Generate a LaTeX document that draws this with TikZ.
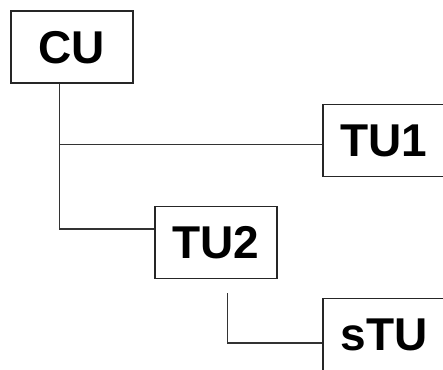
\documentclass[tikz,border=0pt]{standalone}
\usepackage{fontspec}
\setmainfont{Liberation Sans}
\usepackage{tikz}

\begin{document}
\begin{tikzpicture}[x=1pt,y=-1pt,
	unit/.style={draw=black!85, line width=1.8pt, minimum width=122pt, minimum height=72pt, inner sep=0pt, text depth=0pt, font=\fontsize{46}{55}\selectfont\bfseries},
	link/.style={draw=black!80, line width=1.5pt}]
	\useasboundingbox (0,0) rectangle (443,369);
	\clip (0,0) rectangle (443,369);
	\node[unit] (cu) at (72,47) {CU};
	\node[unit] (tu1) at (384,140.5) {TU1};
	\node[unit] (tu2) at (216,242.5) {TU2};
	\node[unit] (stu) at (384,334.5) {sTU};
	\coordinate (cuout) at ([xshift=-12.5pt]cu.south);
	\coordinate (tu1in) at ([yshift=-4pt]tu1.west);
	\coordinate (tu2out) at ([xshift=11.5pt,yshift=-14pt]tu2.south);
	\draw[link] (cuout) |- ([yshift=13.5pt]tu2.west);
	\draw[link] (cuout |- tu1in) -- (tu1in);
	\draw[link] (tu2out) |- ([yshift=-8.5pt]stu.west);
\end{tikzpicture}
\end{document}
